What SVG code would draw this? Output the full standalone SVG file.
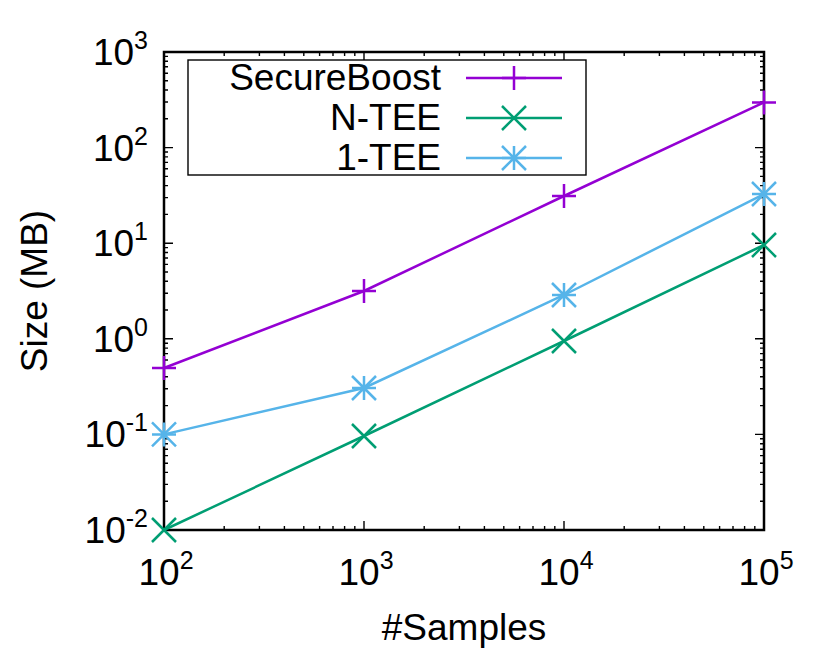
<svg xmlns="http://www.w3.org/2000/svg" width="830" height="663" viewBox="0 0 830 663">
<style>
text{font-family:"Liberation Sans",Arial,sans-serif;font-size:37px;fill:#000}
.t{stroke:#000;stroke-width:1.4;fill:none}
.s{fill:none;stroke-width:2.5}
.sb{stroke:#9400d3}.nt{stroke:#009e73}.ot{stroke:#56b4e9}
</style>
<defs>
<path id="yl" class="t" d="M0,-28.8h4M0,-45.6h4M0,-57.6h4M0,-66.8h4M0,-74.4h4M0,-80.8h4M0,-86.3h4M0,-91.2h4"/>
<path id="yr" class="t" d="M0,-28.8h-4M0,-45.6h-4M0,-57.6h-4M0,-66.8h-4M0,-74.4h-4M0,-80.8h-4M0,-86.3h-4M0,-91.2h-4"/>
<path id="xb" class="t" d="M60.2,0v-4M95.4,0v-4M120.4,0v-4M139.8,0v-4M155.6,0v-4M169,0v-4M180.6,0v-4M190.8,0v-4"/>
<path id="xt" class="t" d="M60.2,0v4M95.4,0v4M120.4,0v4M139.8,0v4M155.6,0v4M169,0v4M180.6,0v4M190.8,0v4"/>
<path id="p" d="M-12,0h24M0,-12v24"/>
<path id="x" d="M-12,-12l24,24M-12,12l24,-24"/>
<path id="a" d="M-12,0h24M0,-12v24M-12,-12l24,24M-12,12l24,-24"/>
</defs>
<g id="axes">
<rect x="164" y="52" width="600" height="478" fill="none" stroke="#000" stroke-width="2.5"/>
<path class="t" d="M164,530h9M164,434.4h9M164,338.8h9M164,243.2h9M164,147.6h9M164,52h9M764,530h-9M764,434.4h-9M764,338.8h-9M764,243.2h-9M764,147.6h-9M764,52h-9M364,530v-9M564,530v-9M364,52v9M564,52v9"/>
<use href="#yl" transform="translate(164,530)"/><use href="#yl" transform="translate(164,434.4)"/><use href="#yl" transform="translate(164,338.8)"/><use href="#yl" transform="translate(164,243.2)"/><use href="#yl" transform="translate(164,147.6)"/>
<use href="#yr" transform="translate(764,530)"/><use href="#yr" transform="translate(764,434.4)"/><use href="#yr" transform="translate(764,338.8)"/><use href="#yr" transform="translate(764,243.2)"/><use href="#yr" transform="translate(764,147.6)"/>
<use href="#xb" transform="translate(164,530)"/><use href="#xb" transform="translate(364,530)"/><use href="#xb" transform="translate(564,530)"/>
<use href="#xt" transform="translate(164,52)"/><use href="#xt" transform="translate(364,52)"/><use href="#xt" transform="translate(564,52)"/>
</g>
<g id="ylabels" text-anchor="end">
<text x="148" y="543">10<tspan font-size="25" dy="-16">-2</tspan></text>
<text x="148" y="447">10<tspan font-size="25" dy="-16">-1</tspan></text>
<text x="148" y="352">10<tspan font-size="25" dy="-16">0</tspan></text>
<text x="148" y="256">10<tspan font-size="25" dy="-16">1</tspan></text>
<text x="148" y="161">10<tspan font-size="25" dy="-16">2</tspan></text>
<text x="148" y="65">10<tspan font-size="25" dy="-16">3</tspan></text>
</g>
<g id="xlabels" text-anchor="middle">
<text x="166" y="585">10<tspan font-size="25" dy="-16">2</tspan></text>
<text x="366" y="585">10<tspan font-size="25" dy="-16">3</tspan></text>
<text x="566" y="585">10<tspan font-size="25" dy="-16">4</tspan></text>
<text x="766" y="585">10<tspan font-size="25" dy="-16">5</tspan></text>
</g>
<text x="464" y="640" text-anchor="middle">#Samples</text>
<text transform="translate(47,291) rotate(-90)" text-anchor="middle">Size (MB)</text>
<g id="connectors">
<g id="secureboost" class="s sb">
<path d="M164,368L364,291L564,196L764,102.4"/>
<use href="#p" x="164" y="368"/><use href="#p" x="364" y="291"/><use href="#p" x="564" y="196"/><use href="#p" x="764" y="102.4"/>
</g>
<g id="ntee" class="s nt">
<path d="M164,530L364,436L564,341L764,245"/>
<use href="#x" x="164" y="530"/><use href="#x" x="364" y="436"/><use href="#x" x="564" y="341"/><use href="#x" x="764" y="245"/>
</g>
<g id="onetee" class="s ot">
<path d="M164,434.4L364,388L564,295L764,194"/>
<use href="#a" x="164" y="434.4"/><use href="#a" x="364" y="388"/><use href="#a" x="564" y="295"/><use href="#a" x="764" y="194"/>
</g>
</g>
<g id="legend">
<rect x="188" y="60" width="398" height="115" fill="#fff" stroke="#000" stroke-width="1.4"/>
<text x="441" y="90" text-anchor="end">SecureBoost</text>
<text x="441" y="130" text-anchor="end">N-TEE</text>
<text x="441" y="170" text-anchor="end">1-TEE</text>
<g class="s sb"><path d="M466,78h96"/><use href="#p" x="514" y="78"/></g>
<g class="s nt"><path d="M466,118h96"/><use href="#x" x="514" y="118"/></g>
<g class="s ot"><path d="M466,158h96"/><use href="#a" x="514" y="158"/></g>
</g>
</svg>
